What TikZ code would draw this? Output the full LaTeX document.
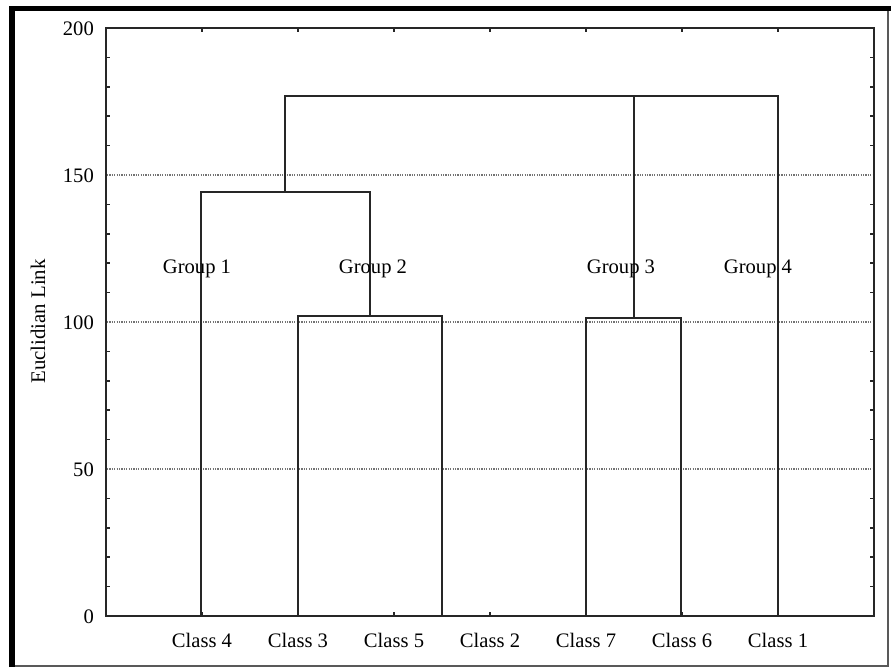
\documentclass[tikz,border=0pt]{standalone}
\usepackage{fontspec}
\setmainfont{Liberation Serif}
\begin{document}
\begin{tikzpicture}[x=1pt,y=-1pt]
\tikzset{
  dline/.style={draw=black!85, line width=2pt, line join=miter},
  gridline/.style={draw=black!55, line width=1.1pt, dash pattern=on 1.2pt off 1.2pt},
  tickline/.style={draw=black!85, line width=1.6pt},
  lbl/.style={font=\fontsize{20.6}{24}\selectfont, inner sep=0pt, text=black},
  axlbl/.style={font=\fontsize{20.8}{24}\selectfont, inner sep=0pt, text=black}
}
\useasboundingbox (0,0) rectangle (891,667);
\fill[white] (0,0) rectangle (891,667);
% outer frame
\draw[black!65, line width=2pt] (888,8.5) -- (888,666) -- (12,666);
\draw[black, line width=5.5pt] (12,667) -- (12,8.5) -- (891,8.5);
% grid lines
\foreach \yy in {175,322,469} \draw[gridline] (107,\yy) -- (873,\yy);
% plot frame
\draw[dline] (106,28) rectangle (874,616);
% minor ticks left/right
\foreach \v in {10,20,30,40,60,70,80,90,110,120,130,140,160,170,180,190} {
  \draw[tickline] (106,{616-2.94*\v}) -- (110,{616-2.94*\v});
  \draw[tickline] (874,{616-2.94*\v}) -- (870,{616-2.94*\v});
}
% top / bottom ticks at class positions
\foreach \xx in {202,298,394,490,586,682,778} {
  \draw[tickline] (\xx,28) -- (\xx,32);
  \draw[tickline] (\xx,616) -- (\xx,612);
}
% y tick labels
\node[lbl, anchor=base east] (t200) at (94,35) {200};
\node[lbl, anchor=base east] (t150) at (94,182) {150};
\node[lbl, anchor=base east] (t100) at (94,329) {100};
\node[lbl, anchor=base east] (t50) at (94,476) {50};
\node[lbl, anchor=base east] (t0) at (94,623) {0};
% axis label
\node[axlbl, rotate=90, anchor=base] (ylab) at (45,321.5) {Euclidian Link};
% leaves and merges
\coordinate (c4) at (201,616);
\coordinate (c3) at (298,616);
\coordinate (c5) at (442,616);
\coordinate (c7) at (586,616);
\coordinate (c6) at (681,616);
\coordinate (c1) at (778,616);
\coordinate (m35) at (370,316);
\coordinate (m76) at (634,318);
\coordinate (m4) at (285,192);
\coordinate (mtop) at (634,96);
\draw[dline] (c3) |- (m35) -| (c5);
\draw[dline] (c7) |- (m76) -| (c6);
\draw[dline] (c4) |- (m4) -| (m35);
\draw[dline] (m4) |- (mtop) -| (c1);
\draw[dline] (m76) -- (mtop);
% class labels
\node[lbl, anchor=base] (l4) at (202,647) {Class 4};
\node[lbl, anchor=base] (l3) at (298,647) {Class 3};
\node[lbl, anchor=base] (l5) at (394,647) {Class 5};
\node[lbl, anchor=base] (l2) at (490,647) {Class 2};
\node[lbl, anchor=base] (l7) at (586,647) {Class 7};
\node[lbl, anchor=base] (l6) at (682,647) {Class 6};
\node[lbl, anchor=base] (l1) at (778,647) {Class 1};
% group labels
\node[lbl, anchor=base] (g1) at (197,273) {Group 1};
\node[lbl, anchor=base] (g2) at (373,273) {Group 2};
\node[lbl, anchor=base] (g3) at (621,273) {Group 3};
\node[lbl, anchor=base] (g4) at (758,273) {Group 4};
\end{tikzpicture}
\end{document}
